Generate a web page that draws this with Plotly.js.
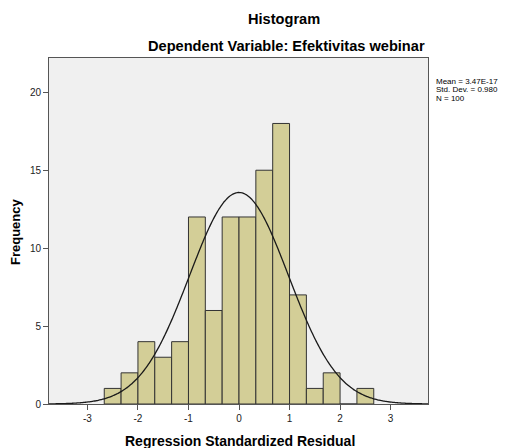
<!DOCTYPE html>
<html>
<head>
<meta charset="utf-8">
<script src="https://cdn.plot.ly/plotly-3.0.1.min.js"></script>
<style>html,body{margin:0;padding:0;background:#fff;}#chart{width:511px;height:448px;}</style>
</head>
<body>
<div id="chart"></div>
<script>
// Histogram bins (regression standardized residual), bin width 1/3
const binStart = -8 / 3;
const binWidth = 1 / 3;
const counts = [1, 2, 4, 3, 4, 12, 6, 12, 12, 15, 18, 7, 1, 2, 0, 1];
// Summary statistics shown on the chart
const statMean = 3.47e-17;
const statSD = 0.980;
const statN = 100;
const statLabels = ["Mean = 3.47E-17", "Std. Dev. = 0.980", "N = 100"];
const xTickVals = [-3, -2, -1, 0, 1, 2, 3];
const xTickText = ["-3", "-2", "-1", "0", "1", "2", "3"];
const yTickVals = [0, 5, 10, 15, 20];
const yTickText = ["0", "5", "10", "15", "20"];
const xRange = [-3.76, 3.74];
const yRange = [0, 22.2];

const binCenters = counts.map((c, i) => binStart + binWidth * (i + 0.5));

// Normal curve implied by the summary statistics
const curveX = [], curveY = [];
const steps = 300;
for (let i = 0; i <= steps; i++) {
  const x = xRange[0] + (xRange[1] - xRange[0]) * i / steps;
  const z = (x - statMean) / statSD;
  curveX.push(x);
  curveY.push(statN * binWidth * Math.exp(-0.5 * z * z) / (statSD * Math.sqrt(2 * Math.PI)));
}

const FONT = "Liberation Sans, Arial, sans-serif";
const ml = 49, mr = 83, mt = 58, mb = 44;
const W = 511, H = 448;
const pw = W - ml - mr, ph = H - mt - mb;
const px = (x) => (x - ml) / pw;
const py = (y) => (H - mb - y) / ph;

const traces = [
  {
    type: "bar", x: binCenters, y: counts, width: binWidth,
    marker: { color: "#D3CE97", line: { color: "#333333", width: 1 } },
    hoverinfo: "x+y", showlegend: false
  },
  {
    type: "scatter", mode: "lines", x: curveX, y: curveY,
    line: { color: "#1a1a1a", width: 1.3, shape: "spline" },
    hoverinfo: "skip", showlegend: false
  }
];

const annotations = [
  { text: "<b>Histogram</b>", x: px(284), y: py(19), font: { size: 14.6, color: "#000" } },
  { text: "<b>Dependent Variable: Efektivitas webinar</b>", x: px(286), y: py(46), font: { size: 14.6, color: "#000" } },
  { text: "<b>Regression Standardized Residual</b>", x: px(239.5), y: py(441), font: { size: 14, color: "#000" } },
  { text: "<b>Frequency</b>", x: px(15), y: py(232), textangle: -90, font: { size: 13, color: "#000" } }
].map(a => Object.assign({ xref: "paper", yref: "paper", showarrow: false, xanchor: "center", yanchor: "middle" }, a, { font: Object.assign({ family: FONT }, a.font) }));

statLabels.forEach((t, i) => {
  annotations.push({
    text: t, xref: "paper", yref: "paper", x: px(434), y: py(82 + 8 * i),
    xanchor: "left", yanchor: "middle", showarrow: false,
    font: { family: FONT, size: 8, color: "#000" }
  });
});

const layout = {
  width: W, height: H,
  margin: { l: ml, r: mr, t: mt, b: mb, pad: 0 },
  paper_bgcolor: "#ffffff",
  plot_bgcolor: "#F0F0F0",
  bargap: 0,
  font: { family: FONT, size: 10, color: "#222" },
  xaxis: {
    range: xRange, tickvals: xTickVals, ticktext: xTickText,
    ticks: "outside", ticklen: 5, tickcolor: "#555", tickwidth: 1,
    showgrid: false, zeroline: false, showline: true, linecolor: "#555", linewidth: 1, mirror: true,
    tickfont: { family: FONT, size: 10, color: "#222" }, fixedrange: true
  },
  yaxis: {
    range: yRange, tickvals: yTickVals, ticktext: yTickText,
    ticks: "outside", ticklen: 5, tickcolor: "#555", tickwidth: 1,
    showgrid: false, zeroline: false, showline: true, linecolor: "#555", linewidth: 1, mirror: true,
    tickfont: { family: FONT, size: 10, color: "#222" }, fixedrange: true
  },
  annotations: annotations
};

Plotly.newPlot("chart", traces, layout, { displayModeBar: false, staticPlot: true });
</script>
</body>
</html>
